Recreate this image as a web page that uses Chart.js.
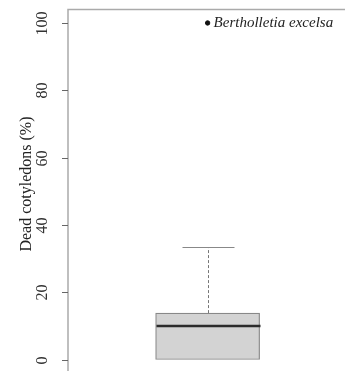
<!DOCTYPE html>
<html>
<head>
<meta charset="utf-8">
<script src="https://cdn.jsdelivr.net/npm/chart.js@4"></script>
<style>
  html, body { margin: 0; padding: 0; background: #fff; overflow: hidden; }
  canvas { display: block; }
</style>
</head>
<body>
<canvas id="boxChart" width="345" height="373"></canvas>
<script>
// box plot values (percent dead cotyledons)
const groupPos = [1];
const lowerQuartile = [0];
const medianValue = [10];
const upperQuartile = [13.8];
const upperWhisker = [33.3];
const lowerWhisker = [0];
const outlierValues = [100];
const outlierLabels = ['Bertholletia excelsa'];
const yTicks = [0, 20, 40, 60, 80, 100];
const yTitle = 'Dead cotyledons (%)';

const serif = '"Liberation Serif", "DejaVu Serif", serif';

// whiskers, median, frame and axis labels, drawn off the chart scales
const boxExtras = {
    id: 'boxExtras',
    afterDatasetsDraw(chart) {
        const c = chart.ctx;
        const xs = chart.scales.x;
        const ys = chart.scales.y;
        const area = chart.chartArea;
        const halfBox = 52;
        const halfCap = 26;

        c.save();
        groupPos.forEach((g, i) => {
            const cx = Math.round(xs.getPixelForValue(g)) + 0.5;

            // upper whisker (dashed)
            c.strokeStyle = '#777';
            c.lineWidth = 1;
            c.setLineDash([3, 2]);
            c.beginPath();
            c.moveTo(cx, ys.getPixelForValue(upperQuartile[i]));
            c.lineTo(cx, ys.getPixelForValue(upperWhisker[i]));
            c.stroke();
            c.setLineDash([]);

            // cap
            c.strokeStyle = '#888';
            const capY = Math.round(ys.getPixelForValue(upperWhisker[i])) + 0.5;
            c.beginPath();
            c.moveTo(cx - halfCap, capY);
            c.lineTo(cx + halfCap, capY);
            c.stroke();

            // median
            c.strokeStyle = '#2b2b2b';
            c.lineWidth = 2.5;
            const my = ys.getPixelForValue(medianValue[i]);
            c.beginPath();
            c.moveTo(cx - halfBox, my);
            c.lineTo(cx + halfBox, my);
            c.stroke();
        });

        // outlier labels
        c.fillStyle = '#222';
        c.font = 'italic 15px ' + serif;
        c.textAlign = 'left';
        c.textBaseline = 'middle';
        outlierValues.forEach((v, i) => {
            c.fillText(outlierLabels[i], xs.getPixelForValue(groupPos[0]) + 6, ys.getPixelForValue(v));
        });

        // frame: left and top
        c.strokeStyle = '#aaa';
        c.lineWidth = 1.5;
        c.beginPath();
        c.moveTo(area.left, area.bottom + 5);
        c.lineTo(area.left, area.top);
        c.lineTo(chart.width + 5, area.top);
        c.stroke();

        // ticks and rotated labels
        c.strokeStyle = '#666';
        c.lineWidth = 1;
        c.fillStyle = '#333';
        c.font = '16px ' + serif;
        c.textAlign = 'center';
        c.textBaseline = 'middle';
        yTicks.forEach(t => {
            const ty = Math.round(ys.getPixelForValue(t)) + 0.5;
            c.beginPath();
            c.moveTo(area.left - 6, ty);
            c.lineTo(area.left, ty);
            c.stroke();
            c.save();
            c.translate(area.left - 25, ty);
            c.rotate(-Math.PI / 2);
            c.fillText(String(t), 0, 0);
            c.restore();
        });

        // axis title
        c.fillStyle = '#222';
        c.save();
        c.translate(27, 184);
        c.rotate(-Math.PI / 2);
        c.fillText(yTitle, 0, 0);
        c.restore();

        c.restore();
    }
};

const ctx = document.getElementById('boxChart').getContext('2d');
new Chart(ctx, {
    type: 'bar',
    data: {
        datasets: [
            {
                type: 'bar',
                data: groupPos.map((g, i) => ({ x: g, y: [lowerQuartile[i], upperQuartile[i]] })),
                backgroundColor: '#d3d3d3',
                borderColor: '#888',
                borderWidth: 1.2,
                borderSkipped: false,
                barThickness: 104
            },
            {
                type: 'scatter',
                data: outlierValues.map(v => ({ x: groupPos[0], y: v })),
                backgroundColor: '#111',
                borderColor: '#111',
                pointRadius: 2.2
            }
        ]
    },
    options: {
        responsive: false,
        animation: false,
        layout: { autoPadding: false, padding: { left: 68, top: 9.5, right: 0, bottom: 0 } },
        plugins: {
            legend: { display: false },
            tooltip: { enabled: false }
        },
        scales: {
            x: {
                type: 'linear',
                min: 0,
                max: 1.98,
                display: false
            },
            y: {
                type: 'linear',
                min: -4,
                max: 104,
                display: false
            }
        }
    },
    plugins: [boxExtras]
});
</script>
</body>
</html>
